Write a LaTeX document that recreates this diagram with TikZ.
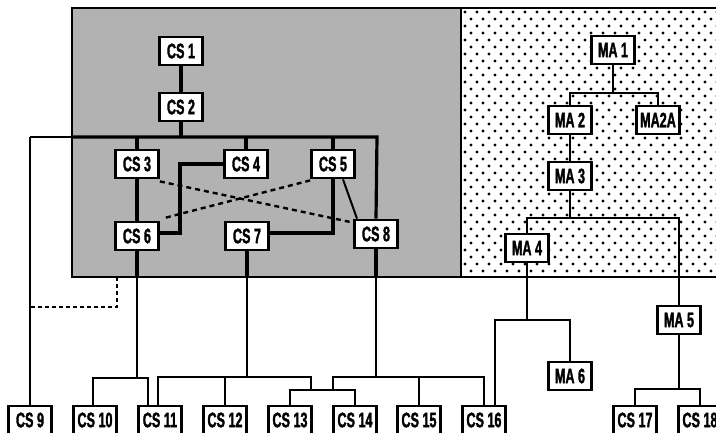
\documentclass[tikz,border=0pt]{standalone}
\usepackage{fontspec}
\newfontfamily\boxfont{Liberation Sans}[FakeStretch=0.6,FakeBold=1.5]
\begin{document}
\begin{tikzpicture}[x=1pt,y=-1pt,
  box/.style={draw, line width=2.8pt, fill=white, minimum width=43pt, minimum height=28pt, inner sep=0pt, font=\boxfont\bfseries\fontsize{21}{21}\selectfont},
  heavy/.style={line width=3.2pt},
  lite/.style={line width=2pt},
  dashln/.style={line width=2.4pt, dash pattern=on 5pt off 4pt}]
\useasboundingbox (0,0) rectangle (716,432);
% regions
\fill[black!30] (72,8) rectangle (461,277);
\begin{scope}
\clip (462,8) rectangle (718,276);
\foreach \r in {0,...,38} {\foreach \c in {0,...,22} {
  \fill ({465+\c*12+mod(\r,2)*6},{12+\r*7}) circle (1.7pt);}}
\end{scope}
\draw[line width=2.2pt] (72,8) rectangle (720,277);
\draw[line width=2.2pt] (461,8) -- (461,277);
% coordinates
\coordinate (busL) at (30,137);
\coordinate (busE) at (72,137);
\coordinate (busR) at (377,137);
\coordinate (g6) at (137,277);
\coordinate (g7) at (247,277);
\coordinate (g8) at (376,277);
\coordinate (b6) at (137,378);
\coordinate (b7) at (247,377);
\coordinate (b8) at (376,377);
\coordinate (j1) at (311,390);
\coordinate (j2) at (333,390);
\coordinate (m4) at (527,320);
\coordinate (m1) at (613,93);
\coordinate (m3) at (570,218);
\coordinate (m5) at (679,389);
\coordinate (k4) at (180,164);
\coordinate (k6) at (180,233);
\coordinate (k5) at (333,233);
\coordinate (dA) at (117,277);
\coordinate (dB) at (117,307);
\coordinate (dC) at (30,307);
% nodes
\node[box] (cs1) at (181,51) {CS 1};
\node[box] (cs2) at (181,107) {CS 2};
\node[box] (cs3) at (137,164) {CS 3};
\node[box] (cs4) at (246,164) {CS 4};
\node[box] (cs5) at (333,164) {CS 5};
\node[box] (cs6) at (137,236) {CS 6};
\node[box] (cs7) at (247,236) {CS 7};
\node[box] (cs8) at (376,234) {CS 8};
\node[box] (ma1) at (613,50) {MA 1};
\node[box] (ma2) at (570,120) {MA 2};
\node[box] (ma2a) at (658,120) {MA2A};
\node[box] (ma3) at (570,176) {MA 3};
\node[box] (ma4) at (527,248) {MA 4};
\node[box] (ma5) at (679,320) {MA 5};
\node[box] (ma6) at (570,376) {MA 6};
\node[box] (cs9) at (30,420) {CS 9};
\node[box] (cs10) at (95,420) {CS 10};
\node[box] (cs11) at (160,420) {CS 11};
\node[box] (cs12) at (225,420) {CS 12};
\node[box] (cs13) at (290,420) {CS 13};
\node[box] (cs14) at (355,420) {CS 14};
\node[box] (cs15) at (419,420) {CS 15};
\node[box] (cs16) at (484,420) {CS 16};
\node[box] (cs17) at (635,420) {CS 17};
\node[box] (cs18) at (700,420) {CS 18};
% connectors in the CS area
\draw[heavy] (cs1) -- (cs2);
\draw[heavy] (cs2.south) -- (cs2.south |- busR);
\draw[heavy] (busE) -- (busR) -- (cs8.north);
\draw[lite] (busL) -- (busE);
\draw[lite] (busL) -- (cs9.north);
\draw[heavy] (cs3.north |- busR) -- (cs3.north);
\draw[heavy] (cs4.north |- busR) -- (cs4.north);
\draw[heavy] (cs5.north |- busR) -- (cs5.north);
\draw[heavy] (cs3) -- (cs6);
\draw[heavy] (cs4.west) -- (k4) -- (k6) -- (cs6.east |- k6);
\draw[heavy] (cs5.south) -- (k5) -- (cs7.east |- k5);
\draw[lite] ([xshift=10pt]cs5.south) -- ([xshift=-19pt]cs8.north);
\draw[dashln] ([yshift=-2pt]cs3.south east) -- ([yshift=-4pt]cs8.north west);
\draw[dashln] ([xshift=6pt,yshift=3pt]cs6.north east) -- ([yshift=-1pt]cs5.south west);
\draw[heavy] (cs6.south) -- (g6);
\draw[heavy] (cs7.south) -- (g7);
\draw[heavy] (cs8.south) -- (g8);
\draw[lite, dash pattern=on 4pt off 3pt] (dA) -- (dB) -- (dC);
% below the CS area
\draw[lite] (g6) -- (b6);
\draw[lite] (g7) -- (b7);
\draw[lite] (g8) -- (b8);
\draw[lite] ([xshift=-2pt]cs10.north) |- (b6) -| ([xshift=-12pt]cs11.north);
\draw[lite] ([xshift=-2pt]cs11.north) |- (b7) -| (j1);
\draw[lite] (cs12.north) -- (cs12.north |- b7);
\draw[lite] (j2) |- (b8) -| (cs16.north);
\draw[lite] (cs15.north) -- (cs15.north |- b8);
\draw[lite] (cs13.north) |- (j1) -| (cs14.north);
% MA tree
\draw[lite] (ma1.south) -- (m1);
\draw[lite] (ma2.north) |- (m1) -| (ma2a.north);
\draw[lite] (ma2) -- (ma3);
\draw[lite] (ma3.south) -- (m3);
\draw[lite] (ma4.north) |- (m3) -| (ma5.north);
\draw[lite] (ma4.south) -- (m4);
\draw[lite] ([xshift=11pt]cs16.north) |- (m4) -| (ma6.north);
\draw[lite] (ma5.south) -- (m5);
\draw[lite] (cs17.north) |- (m5) -| (cs18.north);
\end{tikzpicture}
\end{document}
